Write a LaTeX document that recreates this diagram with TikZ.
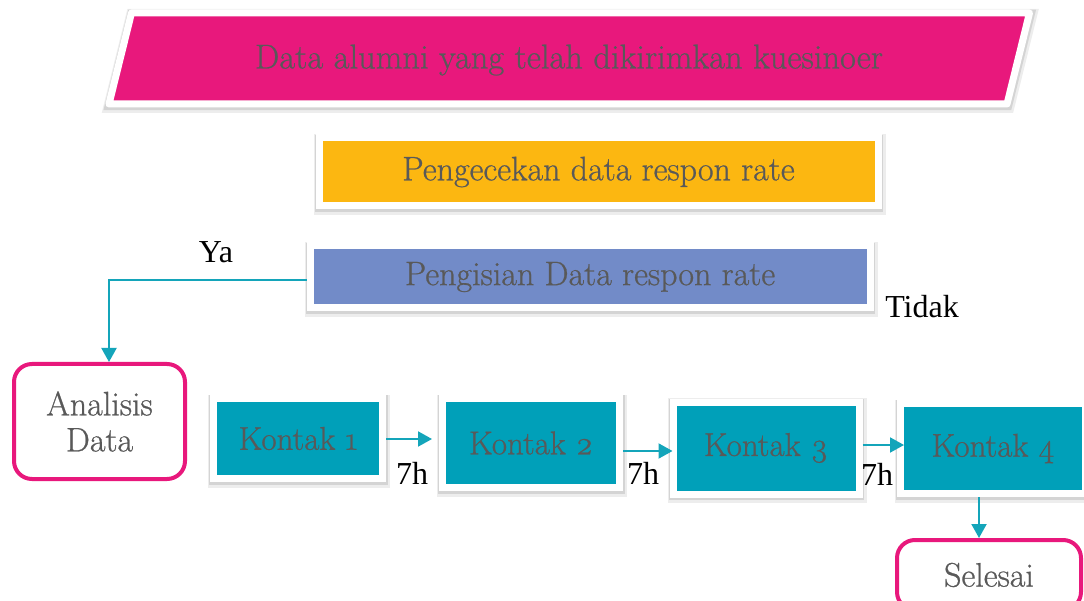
\documentclass[tikz,border=0pt]{standalone}
\usepackage{fontspec}
\newfontfamily\tnr{Liberation Serif}
\newfontfamily\gfont{Latin Modern Roman}[FakeBold=0.7, Numbers=OldStyle]
\usetikzlibrary{arrows.meta}
\definecolor{kpink}{HTML}{E8187C}
\definecolor{korange}{HTML}{FCB711}
\definecolor{kblue}{HTML}{728BC8}
\definecolor{kteal}{HTML}{00A0B9}
\definecolor{kline}{HTML}{14A5BA}
\definecolor{txtgray}{HTML}{595959}
\pgfdeclarelayer{bg}
\pgfsetlayers{bg,main}
\begin{document}
\begin{tikzpicture}[x=1pt,y=-1pt,
  halo/.style={preaction={draw=black, draw opacity=0.07, line width=13pt, transform canvas={xshift=1pt,yshift=-2.5pt}},
               preaction={draw=black, draw opacity=0.10, line width=9.5pt, transform canvas={xshift=0.5pt,yshift=-1.5pt}}},
  box/.style={halo, draw=white, line width=7pt, inner sep=0pt, text=txtgray,
    font=\gfont\fontsize{34}{38}\selectfont},
  kbox/.style={box, fill=kteal, font=\gfont\fontsize{33}{36}\selectfont},
  endbox/.style={draw=kpink, line width=4pt, fill=white, rounded corners=18pt,
    inner sep=0pt, text=txtgray, align=center, font=\gfont\fontsize{34}{36}\selectfont},
  conn/.style={draw=kline, line width=2pt},
  arr/.style={conn, -{Triangle[width=15pt,length=14pt]}},
  lbl/.style={text=black, font=\tnr\fontsize{32}{36}\selectfont, inner sep=0pt}]
\useasboundingbox (0,0) rectangle (1084,601);
\clip (0,0) rectangle (1084,601);
\fill[white] (0,0) rectangle (1084,601);

% top parallelogram
\filldraw[halo, fill=kpink, draw=white, line width=7pt, line join=round]
  (131.5,13) -- (1029.5,13) -- (1007,104) -- (109,104) -- cycle;
\node[text=txtgray, font=\gfont\fontsize{34.5}{38}\selectfont, inner sep=0pt] (top) at (569,60)
  {Data alumni yang telah dikirimkan kuesinoer};
\coordinate (pb) at (564,104);

\node[box, fill=korange, minimum width=559pt, minimum height=68pt] (chk) at (598.5,172)
  {Pengecekan data respon rate};
\node[box, fill=kblue, minimum width=560pt, minimum height=62pt] (fill) at (590,277)
  {Pengisian Data respon rate};

\node[kbox, minimum width=169pt, minimum height=80pt] (k1) at (298,438.5) {Kontak 1};
\node[kbox, minimum width=177pt, minimum height=89pt] (k2) at (531,443) {Kontak 2};
\node[kbox, minimum width=186pt, minimum height=92pt] (k3) at (766,448) {Kontak 3};
\node[kbox, minimum width=185pt, minimum height=90pt] (k4) at (993,448.5) {Kontak 4};

\node[endbox, minimum width=171pt, minimum height=115pt] (ana) at (99.5,421.5) {Analisis\\Data};
\node[endbox, minimum width=184pt, minimum height=70pt] (sel) at (989,575) {Selesai};

\node[lbl] (ya) at (216,252) {Ya};
\node[lbl] (tidak) at (922,307) {Tidak};
\node[lbl] (h1) at (412,473) {7h};
\node[lbl] (h2) at (643,473) {7h};
\node[lbl] (h3) at (877,474) {7h};

\coordinate (j) at (564,350);
\coordinate (jl) at (319,350);
\coordinate (jr) at (1019,350);
\coordinate (yc) at (109,280);

\begin{pgfonlayer}{bg}
\draw[conn] (pb) -- (chk.north -| pb);
\draw[conn] (chk.south -| pb) -- (fill.north -| pb);
\draw[conn] (fill.south -| pb) -- (j);
\draw[conn] (k1.north -| jl) -- (jl) -- (jr) -- (k4.north -| jr);
\end{pgfonlayer}

\draw[arr] (fill.west |- yc) -- (yc) -- (ana.north -| yc);
\draw[arr, shorten >=7pt] (k1.east |- 0,439) -- (k2.west |- 0,439);
\draw[arr, shorten >=-3pt] (k2.east |- 0,451) -- (k3.west |- 0,451);
\draw[arr, shorten >=-7pt] (k3.east |- 0,445) -- (k4.west |- 0,445);
\draw[arr] (k4.south -| 979,0) -- (sel.north -| 979,0);
\end{tikzpicture}
\end{document}
